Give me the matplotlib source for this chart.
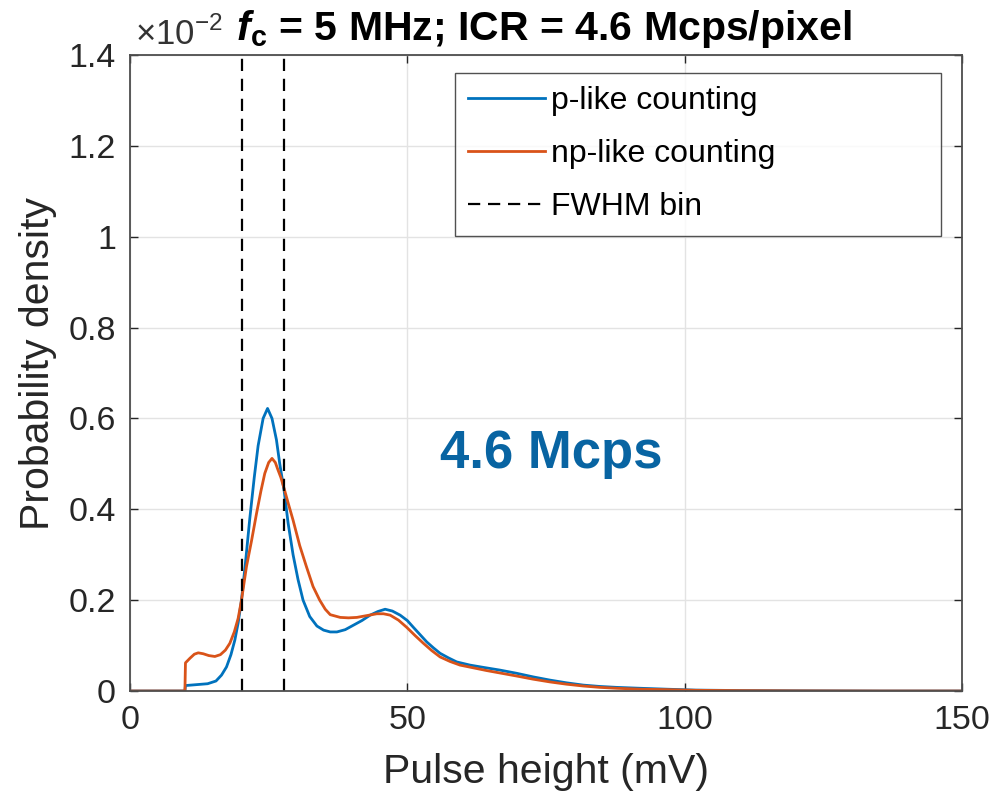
import numpy as np
import matplotlib
matplotlib.use("Agg")
import matplotlib.pyplot as plt

plt.rcParams['font.family'] = ['Liberation Sans', 'DejaVu Sans']
plt.rcParams['mathtext.fontset'] = 'custom'
plt.rcParams['mathtext.rm'] = 'Liberation Sans'
plt.rcParams['mathtext.bf'] = 'Liberation Sans:bold'
plt.rcParams['mathtext.bfit'] = 'Liberation Sans:bold:italic'

# pulse height spectra (mV vs probability density, in units of 1e-2)
x_p = [0, 9.9, 10.0, 12, 14, 15.5, 16.5, 17.4, 18.2, 18.9, 19.5, 20.1, 20.8, 21.6,
       22.4, 23.1, 24.0, 24.8, 25.6, 26.4, 27.0, 27.8, 28.5, 29.4, 30.3, 31.2,
       32.4, 33.7, 34.9, 36.1, 37.3, 38.8, 40.3, 41.8, 43.3, 44.7, 46.0, 47.3,
       48.7, 50.0, 51.1, 52.3, 53.5, 54.7, 55.9, 57.4, 58.9, 61.3, 63.7, 66.7,
       69.7, 72.7, 75.7, 78.7, 81.7, 84.7, 87.7, 92, 96.7, 102, 110, 120, 135, 150]
y_p = [0, 0, 0.012, 0.014, 0.016, 0.022, 0.035, 0.053, 0.08, 0.112, 0.15, 0.20,
       0.28, 0.38, 0.47, 0.54, 0.60, 0.622, 0.60, 0.553, 0.50, 0.44, 0.37, 0.30,
       0.245, 0.20, 0.164, 0.143, 0.134, 0.130, 0.130, 0.135, 0.145, 0.155,
       0.167, 0.175, 0.180, 0.176, 0.167, 0.155, 0.140, 0.124, 0.108, 0.095,
       0.083, 0.073, 0.064, 0.057, 0.052, 0.046, 0.039, 0.031, 0.024, 0.018,
       0.013, 0.010, 0.008, 0.006, 0.004, 0.002, 0.001, 0.0005, 0.0, 0.0]

x_np = [0, 9.9, 10.0, 10.8, 11.6, 12.3, 13.2, 14.2, 15.3, 16.3, 17.2, 18.0, 18.8,
        19.5, 20.1, 21.0, 21.9, 22.8, 23.6, 24.3, 25.0, 25.6, 26.2, 26.7, 27.2,
        27.8, 28.6, 29.4, 30.6, 31.8, 33.0, 34.2, 35.2, 36.1, 37.9, 39.4, 40.9,
        42.7, 44.5, 45.7, 46.9, 48.4, 49.9, 51.4, 52.9, 54.4, 55.9, 57.7, 59.5,
        61.9, 64.3, 67.0, 69.7, 72.7, 75.7, 78.7, 81.7, 84.7, 87.7, 92, 96.7,
        102, 110, 120, 135, 150]
y_np = [0, 0, 0.062, 0.072, 0.081, 0.084, 0.082, 0.078, 0.076, 0.080, 0.090,
        0.105, 0.13, 0.16, 0.20, 0.274, 0.33, 0.39, 0.44, 0.479, 0.503, 0.512,
        0.503, 0.486, 0.47, 0.445, 0.41, 0.376, 0.32, 0.274, 0.23, 0.20, 0.18,
        0.168, 0.162, 0.161, 0.162, 0.166, 0.170, 0.170, 0.167, 0.156, 0.140,
        0.122, 0.105, 0.089, 0.075, 0.065, 0.057, 0.051, 0.045, 0.039, 0.033,
        0.026, 0.020, 0.015, 0.011, 0.008, 0.006, 0.004, 0.003, 0.0015, 0.0008,
        0.0003, 0.0, 0.0]

fwhm_bin = [20.2, 27.8]

x_ticks = [0, 50, 100, 150]
y_ticks = [0, 0.2, 0.4, 0.6, 0.8, 1.0, 1.2, 1.4]
y_ticklabels = ['0', '0.2', '0.4', '0.6', '0.8', '1', '1.2', '1.4']

blue = '#0072BD'
orange = '#D95319'
axcol = '#262626'

fig = plt.figure(figsize=(10.07, 7.98), dpi=100)
ax = fig.add_axes([130/1007, 107/798, 832/1007, 636/798])

ax.plot(x_p, y_p, color=blue, lw=2.0, label='p-like counting')
ax.plot(x_np, y_np, color=orange, lw=2.0, label='np-like counting')
for i, xb in enumerate(fwhm_bin):
    ax.axvline(xb, color='k', lw=1.6, dashes=(5.5, 3.5),
               label='FWHM bin' if i == 0 else None)

ax.set_xlim(0, 150)
ax.set_ylim(0, 1.4)
ax.set_xticks(x_ticks)
ax.set_yticks(y_ticks)
ax.set_yticklabels(y_ticklabels)
ax.grid(True, color='#e3e3e3', lw=1.0)
ax.set_axisbelow(True)
ax.tick_params(direction='in', length=6, width=1.0, colors=axcol,
               labelsize=24.5, top=True, right=True, pad=10)
for s in ax.spines.values():
    s.set_color('#4d4d4d')
    s.set_linewidth(1.3)

ax.set_xlabel('Pulse height (mV)', fontsize=29.5, color=axcol, labelpad=12)
ax.set_ylabel('Probability density', fontsize=29.5, color=axcol)
ax.yaxis.set_label_coords(-0.088, 0.515)

ax.text(0.506, 0.372, '4.6 Mcps', transform=ax.transAxes, color='#0864A2',
        fontsize=38, fontweight='bold', ha='center', va='center')

fig.text(135/1007, 1 - 45/798, r'$\times$10$^{-2}$', fontsize=25,
         color='#333333', ha='left', va='baseline')
fig.text(544/1007, 1 - 40/798,
         r'$\mathbfit{f}_{\mathbf{c}}$ = 5 MHz; ICR = 4.6 Mcps/pixel',
         fontsize=29.5, fontweight='bold', ha='center', va='baseline')

leg = ax.legend(loc='upper left', bbox_to_anchor=(0.3906, 0.7248, 0.5842, 0.2469),
                mode='expand', fontsize=23, frameon=True, fancybox=False,
                edgecolor=axcol, handlelength=2.4, handletextpad=0.2,
                borderpad=0.42, labelspacing=0.72, borderaxespad=0)
leg.get_frame().set_linewidth(1.0)

fig.savefig('out.png', dpi=100)
